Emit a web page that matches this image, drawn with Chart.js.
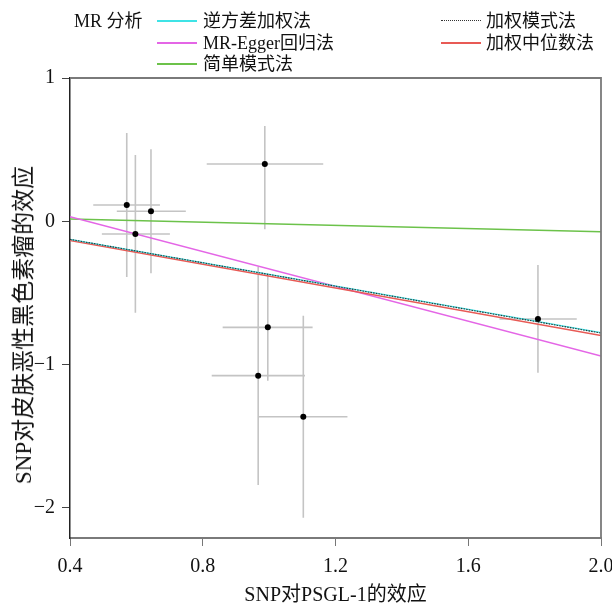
<!DOCTYPE html>
<html>
<head>
<meta charset="utf-8">
<script src="https://cdn.jsdelivr.net/npm/chart.js@4/dist/chart.umd.min.js"></script>
<style>
  html, body { margin: 0; padding: 0; background: #fff; }
  #wrap { position: relative; width: 612px; height: 606px; font-family: "Liberation Serif", "Noto Sans CJK SC", serif; color: #111; }
  #c { position: absolute; left: 0; top: 0; }
  .lg { position: absolute; font-size: 18px; line-height: 22px; white-space: nowrap; }
  .sw { position: absolute; height: 2px; width: 40px; }
  #ytitle { position: absolute; left: 21px; top: 325px; font-size: 23px; white-space: nowrap; transform: translate(-50%, -50%) rotate(-90deg); }
</style>
</head>
<body>
<div id="wrap">
  <canvas id="c" width="612" height="606"></canvas>
  <div class="lg" style="left:74px; top:10px;">MR 分析</div>
  <div class="sw" style="left:157px; top:20px; background:#3fe3e6;"></div>
  <div class="lg" style="left:203px; top:10px;">逆方差加权法</div>
  <div class="sw" style="left:157px; top:42px; background:#e466e6;"></div>
  <div class="lg" style="left:203px; top:32px;">MR-Egger回归法</div>
  <div class="sw" style="left:157px; top:63px; background:#6cc24a;"></div>
  <div class="lg" style="left:203px; top:53px;">简单模式法</div>
  <div class="sw" style="left:441px; top:20px; height:0; border-top:1px dotted #333;"></div>
  <div class="lg" style="left:486px; top:10px;">加权模式法</div>
  <div class="sw" style="left:441px; top:42px; background:#e85a55;"></div>
  <div class="lg" style="left:486px; top:32px;">加权中位数法</div>
  <div id="ytitle">SNP对皮肤恶性黑色素瘤的效应</div>
</div>
<script>
// ---- data ----
const snpX  = [0.571, 0.644, 0.597, 0.987, 0.996, 0.967, 1.103, 1.810];
const snpY  = [0.114, 0.070, -0.089, 0.400, -0.740, -1.077, -1.364, -0.682];
const xLow  = [0.470, 0.541, 0.496, 0.812, 0.860, 0.827, 0.969, 1.694];
const xHigh = [0.671, 0.749, 0.701, 1.163, 1.131, 1.108, 1.236, 1.927];
const yLow  = [-0.389, -0.363, -0.638, -0.056, -1.112, -1.840, -2.068, -1.057];
const yHigh = [0.616, 0.502, 0.463, 0.665, -0.368, -0.317, -0.659, -0.305];

const lineX          = [0.4, 2.0];
const ivw            = [-0.126, -0.777];
const egger          = [0.032, -0.940];
const simpleMode     = [0.016, -0.073];
const weightedMode   = [-0.126, -0.780];
const weightedMedian = [-0.134, -0.797];

const xTicks = [0.4, 0.8, 1.2, 1.6, 2.0];
const yTicks = [-2, -1, 0, 1];

const FONT = '"Liberation Serif", "Noto Sans CJK SC", serif';

function pts(ys) { return lineX.map((x, i) => ({ x: x, y: ys[i] })); }

const errData = [];
snpX.forEach((x, i) => {
  errData.push({ x: xLow[i], y: snpY[i] }, { x: xHigh[i], y: snpY[i] }, { x: xHigh[i], y: null });
  errData.push({ x: x, y: yLow[i] }, { x: x, y: yHigh[i] }, { x: x, y: null });
});

const framePlugin = {
  id: 'frame',
  afterDatasetsDraw(chart) {
    const { ctx, chartArea: a } = chart;
    ctx.save();
    ctx.strokeStyle = '#7a7a7a';
    ctx.lineWidth = 1.8;
    ctx.beginPath();
    ctx.moveTo(a.left, a.top);
    ctx.lineTo(a.right, a.top);
    ctx.lineTo(a.right, a.bottom);
    ctx.stroke();
    ctx.restore();
  }
};

new Chart(document.getElementById('c'), {
  type: 'scatter',
  data: {
    datasets: [
      { data: snpX.map((x, i) => ({ x: x, y: snpY[i] })), showLine: false,
        pointRadius: 3, pointBackgroundColor: '#000', pointBorderWidth: 0 },
      { data: pts(weightedMode), showLine: true, borderColor: '#333', borderWidth: 1.1,
        borderDash: [1.5, 1.2], pointRadius: 0 },
      { data: pts(ivw), showLine: true, borderColor: '#3fe3e6', borderWidth: 1.3, pointRadius: 0 },
      { data: pts(weightedMedian), showLine: true, borderColor: '#e85a55', borderWidth: 1.3, pointRadius: 0 },
      { data: pts(egger), showLine: true, borderColor: '#e466e6', borderWidth: 1.3, pointRadius: 0 },
      { data: pts(simpleMode), showLine: true, borderColor: '#6cc24a', borderWidth: 1.3, pointRadius: 0 },
      { data: errData, showLine: true, spanGaps: false, borderColor: '#c4c4c4', borderWidth: 1.6, pointRadius: 0 }
    ]
  },
  options: {
    responsive: false,
    animation: false,
    events: [],
    layout: { padding: { top: 78, right: 11, left: 0, bottom: 0 } },
    plugins: { legend: { display: false }, tooltip: { enabled: false } },
    scales: {
      x: {
        type: 'linear', min: 0.4, max: 2.0,
        afterBuildTicks: s => { s.ticks = xTicks.map(v => ({ value: v })); },
        afterFit: s => { s.height = 68; s.paddingLeft = 0; s.paddingRight = 0; },
        grid: { drawOnChartArea: false, tickLength: 8, tickColor: '#777', lineWidth: 1 },
        border: { color: '#7a7a7a', width: 2 },
        ticks: { color: '#111', padding: 9, font: { family: FONT, size: 20 },
                 callback: v => Number(v).toFixed(1), maxRotation: 0 },
        title: { display: true, text: 'SNP对PSGL-1的效应', color: '#111',
                 font: { family: FONT, size: 20 }, padding: { top: 0, bottom: -2 } }
      },
      y: {
        type: 'linear', min: -2.21, max: 1,
        afterBuildTicks: s => { s.ticks = yTicks.map(v => ({ value: v })); },
        afterFit: s => { s.width = 70; s.paddingTop = 0; s.paddingBottom = 0; },
        grid: { drawOnChartArea: false, tickLength: 8, tickColor: '#444', lineWidth: 1 },
        border: { color: '#222', width: 1.5 },
        ticks: { color: '#111', padding: 7, font: { family: FONT, size: 20 },
                 callback: v => String(v).replace('-', '\u2212') }
      }
    }
  },
  plugins: [framePlugin]
});
</script>
</body>
</html>
